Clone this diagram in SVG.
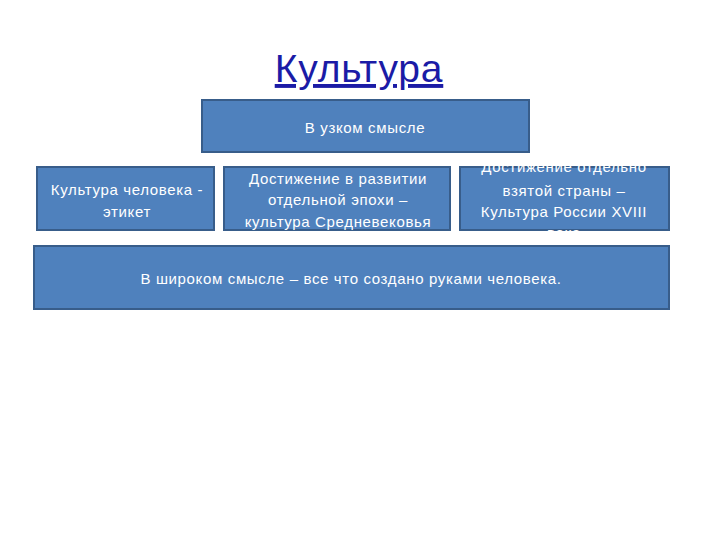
<svg xmlns="http://www.w3.org/2000/svg" width="720" height="540" viewBox="0 0 720 540">
<style>
.box{fill:#4f81bd;stroke:#385d8a;stroke-width:2}
.t{font-family:"Liberation Sans","DejaVu Sans",sans-serif;font-size:15px;letter-spacing:0.65px;fill:#ffffff;text-anchor:middle}
.title{font-family:"Liberation Sans","DejaVu Sans",sans-serif;font-size:39px;letter-spacing:0.8px;fill:#1b1ba6;text-anchor:middle;text-decoration:underline}
</style>
<rect width="720" height="540" fill="#ffffff"/>
<text class="title" x="359" y="82">Культура</text>
<g id="narrow">
<rect class="box" x="202" y="100" width="327" height="52"/>
<text class="t" x="365" y="133">В узком смысле</text>
</g>
<g id="ethics">
<rect class="box" x="37" y="167" width="177" height="63"/>
<text class="t" x="127" y="195">Культура человека -</text>
<text class="t" x="127" y="217">этикет</text>
</g>
<g id="epoch">
<rect class="box" x="224" y="167" width="226" height="63"/>
<text class="t" x="338" y="184">Достижение в развитии</text>
<text class="t" x="338" y="205">отдельной эпохи –</text>
<text class="t" x="338" y="227">культура Средневековья</text>
</g>
<g id="country">
<rect class="box" x="460" y="167" width="209" height="63"/>
<text class="t" x="564" y="172">Достижение отдельно</text>
<text class="t" x="564" y="196">взятой страны –</text>
<text class="t" x="564" y="217">Культура России XVIII</text>
<text class="t" x="564" y="238">века</text>
</g>
<g id="broad">
<rect class="box" x="34" y="246" width="635" height="63"/>
<text class="t" x="351" y="284">В широком смысле – все что создано руками человека.</text>
</g>
<g id="connectors"/>
</svg>
